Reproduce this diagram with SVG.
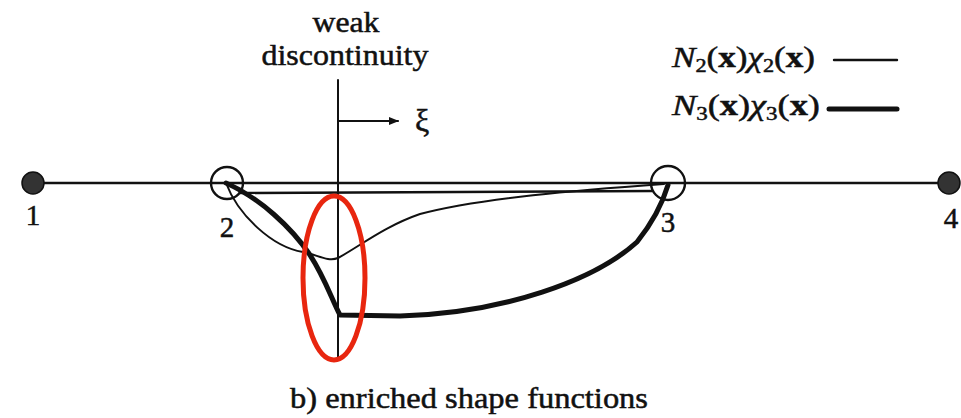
<svg xmlns="http://www.w3.org/2000/svg" width="961" height="418" viewBox="0 0 961 418">
<defs>
<style>
.t{font-family:"Liberation Serif","Times New Roman",serif;fill:#111;stroke:#111;stroke-width:0.5}
.ln{fill:none;stroke:#111;stroke-linecap:round;stroke-linejoin:round}
</style>
<marker id="ah" markerWidth="10" markerHeight="8" refX="9" refY="4" orient="auto" markerUnits="userSpaceOnUse">
<path d="M0,0 L10,4 L0,8 Z" fill="#111"/>
</marker>
</defs>
<rect width="961" height="418" fill="#fff"/>
<g id="connectors">
<path class="ln" d="M33,183 L948,183" stroke-width="2.6"/>
<path class="ln" d="M240,193 L652,191" stroke-width="2.4"/>
<path class="ln" d="M338,80 L338,360" stroke-width="2"/>
<path class="ln" d="M338,121 L398,121" stroke-width="2" marker-end="url(#ah)"/>
<path id="thin" class="ln" d="M226,183 C238,215 272,247 303,252 C318,255 328,262 338,258 C360,246 385,226 420,214 C480,198 580,190 664,184" stroke-width="2"/>
<path id="thick" class="ln" d="M226,183 C260,198 292,228 310,255 C325,278 332,300 340,315 L400,316 C505,313 595,280 637,242 C653,222 662,205 668,185" stroke-width="5"/>
</g>
<g id="node1"><circle cx="33" cy="183" r="11" fill="#333" stroke="#111" stroke-width="1.5"/><text class="t" x="33" y="225" font-size="29" text-anchor="middle">1</text></g>
<g id="node2"><circle cx="227" cy="183" r="16" fill="none" stroke="#111" stroke-width="2.4"/><text class="t" x="227" y="237" font-size="29" text-anchor="middle">2</text></g>
<g id="node3"><circle cx="668" cy="183" r="17" fill="none" stroke="#111" stroke-width="2.4"/><text class="t" x="668" y="232" font-size="29" text-anchor="middle">3</text></g>
<g id="node4"><circle cx="949" cy="183" r="11" fill="#333" stroke="#111" stroke-width="1.5"/><text class="t" x="951" y="228" font-size="29" text-anchor="middle">4</text></g>
<g id="discontinuity-label">
<text class="t" x="346" y="32" font-size="29" text-anchor="middle" textLength="67" lengthAdjust="spacingAndGlyphs">weak</text>
<text class="t" x="345" y="65" font-size="29" text-anchor="middle" textLength="167" lengthAdjust="spacingAndGlyphs">discontinuity</text>
<text class="t" x="415" y="131" font-size="32">ξ</text>
</g>
<g id="legend">
<text class="t" x="672" y="67" font-size="30" textLength="143" lengthAdjust="spacingAndGlyphs"><tspan font-style="italic">N</tspan><tspan font-size="19" dy="5">2</tspan><tspan dy="-5">(</tspan><tspan font-weight="bold">x</tspan>)<tspan font-style="italic">χ</tspan><tspan font-size="19" dy="5">2</tspan><tspan dy="-5">(</tspan><tspan font-weight="bold">x</tspan>)</text>
<path class="ln" d="M834,60 L897,60" stroke-width="2.4"/>
<text class="t" x="672" y="115" font-size="30" textLength="148" lengthAdjust="spacingAndGlyphs"><tspan font-style="italic">N</tspan><tspan font-size="19" dy="5">3</tspan><tspan dy="-5">(</tspan><tspan font-weight="bold">x</tspan>)<tspan font-style="italic">χ</tspan><tspan font-size="19" dy="5">3</tspan><tspan dy="-5">(</tspan><tspan font-weight="bold">x</tspan>)</text>
<path class="ln" d="M829,109 L897,109" stroke-width="5"/>
</g>
<g id="highlight"><ellipse cx="334" cy="278" rx="31" ry="82" fill="none" stroke="#e8260f" stroke-width="5"/></g>
<text class="t" x="290" y="408" font-size="29" textLength="358" lengthAdjust="spacingAndGlyphs">b) enriched shape functions</text>
</svg>
